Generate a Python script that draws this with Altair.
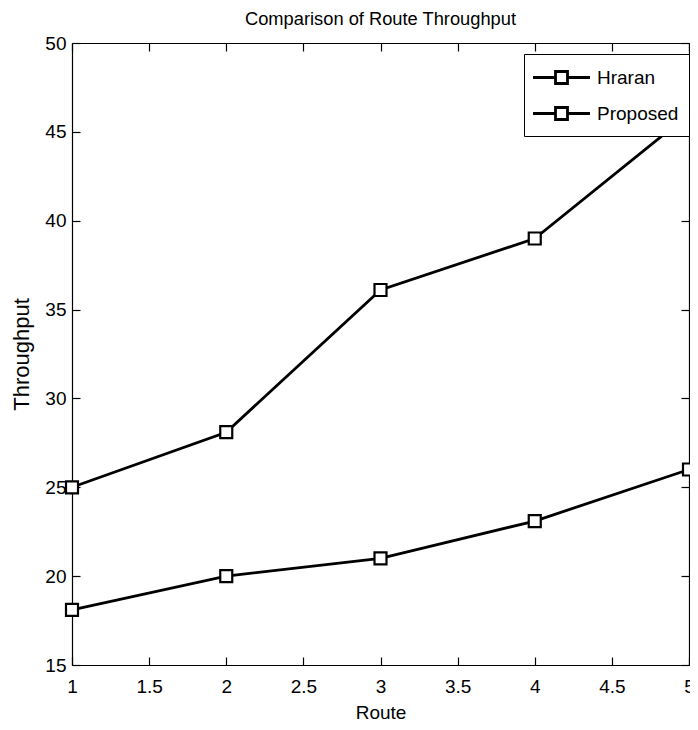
import altair as alt
import pandas as pd

routes = [1, 2, 3, 4, 5]
hraran = [18.1, 20.0, 21.0, 23.1, 26.0]
proposed = [25.0, 28.1, 36.1, 39.0, 46.0]
series_names = ["Hraran", "Proposed"]
x_ticks = [1, 1.5, 2, 2.5, 3, 3.5, 4, 4.5, 5]
y_ticks = [15, 20, 25, 30, 35, 40, 45, 50]

rows = []
for name, vals in zip(series_names, [hraran, proposed]):
    for r, v in zip(routes, vals):
        rows.append({"route": r, "value": v, "series": name})
df = pd.DataFrame(rows)

FONT = "Liberation Sans, Arial, sans-serif"
W, H = 617, 622

xscale = alt.Scale(domain=[1, 5], nice=False, zero=False)
yscale = alt.Scale(domain=[15, 50], nice=False, zero=False)

line_axis = dict(
    grid=False,
    domainColor="black",
    domainWidth=1.2,
    tickColor="black",
    tickWidth=1.2,
    tickSize=alt.ExprRef("-8"),
)
text_axis = dict(
    labelFont=FONT,
    labelFontSize=19,
    labelColor="black",
    titleFont=FONT,
    titleColor="black",
    titleFontWeight="normal",
    labelFlush=False,
    format="~g",
)

x_bottom = alt.Axis(values=x_ticks, title="Route", titleFontSize=19,
                    labelPadding=20, titleBaseline="alphabetic", titleY=53,
                    **line_axis, **text_axis)
y_left = alt.Axis(values=y_ticks, title="Throughput", titleFontSize=22,
                  labelPadding=14, titleBaseline="alphabetic", titleX=-44,
                  **line_axis, **text_axis)
x_top = alt.Axis(values=x_ticks, orient="top", labels=False, title=None, **line_axis)
y_right = alt.Axis(values=y_ticks, orient="right", labels=False, title=None, **line_axis)

legend_path = "M-2.4,0H-0.505M0.505,0H2.4M-0.505,-0.505H0.505V0.505H-0.505Z"

lines = alt.Chart(df).mark_line(strokeWidth=2.8).encode(
    x=alt.X("route:Q", scale=xscale, axis=x_bottom),
    y=alt.Y("value:Q", scale=yscale, axis=y_left),
    color=alt.Color(
        "series:N",
        scale=alt.Scale(domain=series_names, range=["black", "black"]),
        legend=alt.Legend(
            title=None,
            orient="none",
            legendX=452,
            legendY=11,
            symbolType=legend_path,
            symbolSize=564,
            symbolStrokeWidth=2.8,
            symbolStrokeColor="black",
            symbolFillColor="white",
            symbolOffset=14,
            labelOffset=22,
            labelFont=FONT,
            labelFontSize=19,
            labelColor="black",
            padding=10,
            rowPadding=10,
            strokeColor="black",
            fillColor="white",
        ),
    ),
)

points = alt.Chart(df).mark_point(
    shape="square", size=144, filled=True, fill="white", stroke="black", strokeWidth=2.2, opacity=1
).encode(
    x=alt.X("route:Q", scale=xscale, axis=x_top),
    y=alt.Y("value:Q", scale=yscale, axis=y_right),
    detail="series:N",
)

chart = alt.layer(lines, points).resolve_axis(x="independent", y="independent").properties(
    width=W,
    height=H,
    title=alt.TitleParams(
        "Comparison of Route Throughput",
        font=FONT,
        fontSize=18.3,
        fontWeight="normal",
        color="black",
        baseline="alphabetic",
        offset=-9,
    ),
    autosize=alt.AutoSizeParams(type="none"),
    padding={"left": 64, "top": 35, "right": 1, "bottom": 57},
).configure_view(stroke="black", strokeWidth=1.2).configure(background="white")

chart.save("out.html", embed_options={"renderer": "svg", "actions": False})
